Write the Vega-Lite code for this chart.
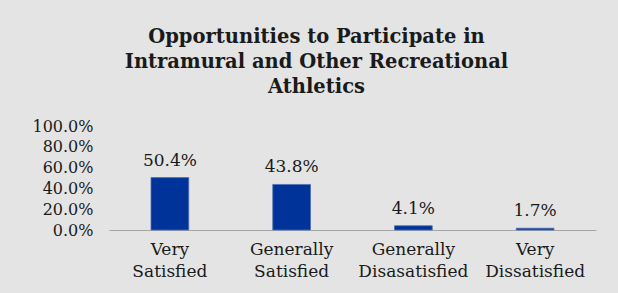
{
  "$schema": "https://vega.github.io/schema/vega-lite/v6.json",
  "width": 487,
  "height": 104,
  "padding": {"left": 31, "top": 26, "right": 23, "bottom": 14},
  "background": "#e4e4e4",
  "title": {
    "text": ["Opportunities to Participate in", "Intramural and Other Recreational", "Athletics"],
    "font": "DejaVu Serif",
    "fontSize": 19.5,
    "fontWeight": "bold",
    "lineHeight": 25,
    "anchor": "middle",
    "dx": -36,
    "color": "#1a1a1a",
    "offset": 21
  },
  "data": {
    "values": [
      {"category": "Very Satisfied", "pct": 0.504},
      {"category": "Generally Satisfied", "pct": 0.438},
      {"category": "Generally Disasatisfied", "pct": 0.041},
      {"category": "Very Dissatisfied", "pct": 0.017}
    ]
  },
  "encoding": {
    "x": {
      "field": "category",
      "type": "nominal",
      "sort": null,
      "scale": {"paddingInner": 0.69, "paddingOuter": 0.345},
      "axis": {
        "title": null,
        "labelAngle": 0,
        "labelExpr": "split(datum.label, ' ')",
        "labelFont": "DejaVu Serif",
        "labelFontSize": 17,
        "labelColor": "#1a1a1a",
        "labelLineHeight": 22,
        "labelPadding": 11,
        "ticks": false,
        "domainColor": "#a6a6a6",
        "domainWidth": 1,
        "grid": false
      }
    },
    "y": {
      "field": "pct",
      "type": "quantitative",
      "scale": {"domain": [0, 1]},
      "axis": {
        "title": null,
        "values": [0, 0.2, 0.4, 0.6, 0.8, 1],
        "format": ".1%",
        "labelFont": "DejaVu Serif",
        "labelFontSize": 16,
        "labelColor": "#1a1a1a",
        "labelPadding": 16,
        "ticks": false,
        "domain": false,
        "grid": false
      }
    }
  },
  "layer": [
    {"mark": {"type": "bar", "color": "#003399", "stroke": "#4f6fb5", "strokeWidth": 0.8}},
    {
      "mark": {"type": "text", "font": "DejaVu Serif", "fontSize": 17, "color": "#1a1a1a", "baseline": "alphabetic", "dy": -12},
      "encoding": {"text": {"field": "pct", "type": "quantitative", "format": ".1%"}}
    }
  ],
  "config": {"view": {"stroke": null}}
}
